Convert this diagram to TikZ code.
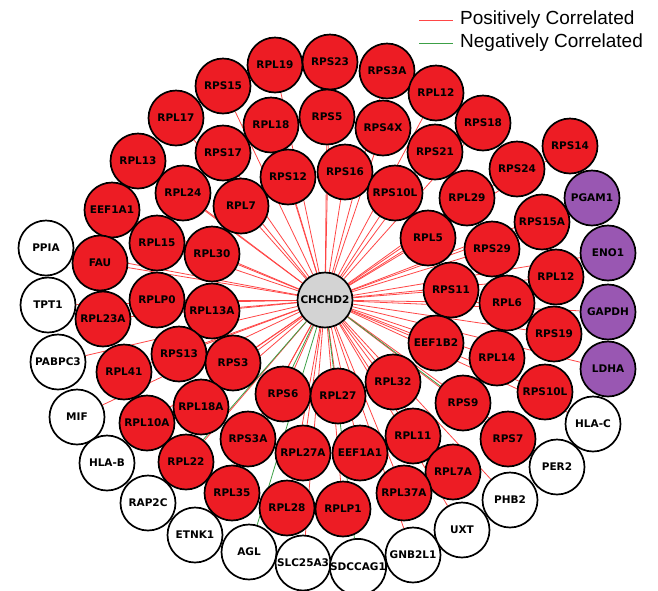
\documentclass[tikz,border=0pt]{standalone}
\usepackage{fontspec}
\setmainfont{DejaVu Sans}
\newfontfamily\legendfont{Liberation Sans}
\usetikzlibrary{backgrounds,positioning}

\definecolor{genered}{RGB}{237,28,36}
\definecolor{genepurple}{RGB}{153,87,178}
\definecolor{genegrey}{RGB}{211,211,211}
\definecolor{posred}{RGB}{255,70,70}
\definecolor{neggreen}{RGB}{60,160,70}

\begin{document}
\begin{tikzpicture}
[x=1pt, y=-1pt,
% STYLES
% The gene style is used to draw every gene as a circle
gene/.style={circle, draw, line width=1.7pt, minimum size=55pt, inner sep=0pt, fill=genered, font=\bfseries\fontsize{10.5}{12}\selectfont},
% The hub style is used for the central gene
hub/.style={gene, fill=genegrey},
% The glyco style is used for the glycolysis genes
glyco/.style={gene, fill=genepurple},
% The other style is used for the uncoloured genes
other/.style={gene, fill=white},
% Correlation lines
poscor/.style={draw=posred, line width=0.8pt},
negcor/.style={draw=neggreen, line width=0.8pt},
legendtext/.style={anchor=west, inner sep=0pt, font=\legendfont\fontsize{19}{22}\selectfont}]

\useasboundingbox (0,0) rectangle (658,590);

% Draw hub
\node [hub] (chchd2) at (325,300) {CHCHD2};

% Draw ribosomal genes
\node [gene] (rpl19) at (275,65) {RPL19};
\node [gene] (rps23) at (330,62) {RPS23};
\node [gene] (rps3a-top) at (387,71) {RPS3A};
\node [gene] (rpl12-top) at (436,93) {RPL12};
\node [gene] (rps18) at (483,123) {RPS18};
\node [gene] (rps14) at (570,146) {RPS14};
\node [gene] (rps15) at (223,86) {RPS15};
\node [gene] (rpl17) at (176,118) {RPL17};
\node [gene] (rpl18) at (271,125) {RPL18};
\node [gene] (rps5) at (327,117) {RPS5};
\node [gene] (rps4x) at (383,128) {RPS4X};
\node [gene] (rps21) at (435,152) {RPS21};
\node [gene] (rps24) at (517,169) {RPS24};
\node [gene] (rpl13) at (138,161) {RPL13};
\node [gene] (rps17) at (223,153) {RPS17};
\node [gene] (rps12) at (288,177) {RPS12};
\node [gene] (rps16) at (345,172) {RPS16};
\node [gene] (rps10l-top) at (395,193) {RPS10L};
\node [gene] (rpl29) at (467,198) {RPL29};
\node [gene] (rpl24) at (183,193) {RPL24};
\node [gene] (eef1a1-left) at (112,210) {EEF1A1};
\node [gene] (rpl7) at (241,206) {RPL7};
\node [gene] (rpl15) at (157,243) {RPL15};
\node [gene] (rpl30) at (212,254) {RPL30};
\node [gene] (fau) at (100,263) {FAU};
\node [gene] (rpl5) at (428,238) {RPL5};
\node [gene] (rps29) at (492,249) {RPS29};
\node [gene] (rps15a) at (542,222) {RPS15A};
\node [gene] (rpl23a) at (103,319) {RPL23A};
\node [gene] (rplp0) at (157,300) {RPLP0};
\node [gene] (rpl13a) at (212,311) {RPL13A};
\node [gene] (rps11) at (451,290) {RPS11};
\node [gene] (rpl12-right) at (556,277) {RPL12};
\node [gene] (rpl6) at (507,303) {RPL6};
\node [gene] (rps19) at (554,334) {RPS19};
\node [gene] (rpl41) at (124,372) {RPL41};
\node [gene] (rps13) at (179,354) {RPS13};
\node [gene] (rps3) at (233,363) {RPS3};
\node [gene] (eef1b2) at (436,343) {EEF1B2};
\node [gene] (rpl14) at (497,358) {RPL14};
\node [gene] (rps10l-right) at (545,392) {RPS10L};
\node [gene] (rps6) at (283,394) {RPS6};
\node [gene] (rpl27) at (338,396) {RPL27};
\node [gene] (rpl32) at (393,382) {RPL32};
\node [gene] (rpl10a) at (147,423) {RPL10A};
\node [gene] (rpl18a) at (201,407) {RPL18A};
\node [gene] (rps9) at (463,403) {RPS9};
\node [gene] (rps3a-bot) at (248,439) {RPS3A};
\node [gene] (rpl27a) at (303,453) {RPL27A};
\node [gene] (eef1a1-bot) at (360,453) {EEF1A1};
\node [gene] (rpl11) at (413,436) {RPL11};
\node [gene] (rps7) at (508,439) {RPS7};
\node [gene] (rpl22) at (186,462) {RPL22};
\node [gene] (rpl7a) at (453,472) {RPL7A};
\node [gene] (rpl35) at (232,493) {RPL35};
\node [gene] (rpl28) at (287,508) {RPL28};
\node [gene] (rplp1) at (343,509) {RPLP1};
\node [gene] (rpl37a) at (404,493) {RPL37A};

% Draw glycolysis genes
\node [glyco] (pgam1) at (592,198) {PGAM1};
\node [glyco] (eno1) at (608,253) {ENO1};
\node [glyco] (gapdh) at (608,312) {GAPDH};
\node [glyco] (ldha) at (608,369) {LDHA};

% Draw other genes
\node [other] (ppia) at (46,248) {PPIA};
\node [other] (tpt1) at (48,305) {TPT1};
\node [other] (pabpc3) at (58,362) {PABPC3};
\node [other] (mif) at (77,417) {MIF};
\node [other] (hla-b) at (107,463) {HLA-B};
\node [other] (rap2c) at (148,503) {RAP2C};
\node [other] (etnk1) at (195,535) {ETNK1};
\node [other] (agl) at (249,552) {AGL};
\node [other] (slc25a3) at (303,563) {SLC25A3};
\node [other] (sdccag1) at (358,567) {SDCCAG1};
\node [other] (gnb2l1) at (413,555) {GNB2L1};
\node [other] (uxt) at (462,530) {UXT};
\node [other] (phb2) at (510,500) {PHB2};
\node [other] (per2) at (557,467) {PER2};
\node [other] (hla-c) at (593,424) {HLA-C};

% Legend
\coordinate (pos-start) at (419,20);
\coordinate (pos-end) at (453,20);
\coordinate (neg-start) at (419,43);
\coordinate (neg-end) at (453,43);
\draw[poscor] (pos-start) -- (pos-end);
\draw[negcor] (neg-start) -- (neg-end);
\node [legendtext, right=7pt of pos-end] (pos-label) {Positively Correlated};
\node [legendtext, right=7pt of neg-end] (neg-label) {Negatively Correlated};

% Draw the links from the hub
\begin{pgfonlayer}{background}
\path[poscor]
    (chchd2) edge (rpl19) (chchd2) edge (rps23) (chchd2) edge (rps3a-top)
    (chchd2) edge (rpl12-top) (chchd2) edge (rps18) (chchd2) edge (rps14)
    (chchd2) edge (rps15) (chchd2) edge (rpl17) (chchd2) edge (rpl18)
    (chchd2) edge (rps5) (chchd2) edge (rps4x) (chchd2) edge (rps21)
    (chchd2) edge (rps24) (chchd2) edge (rpl13) (chchd2) edge (rps17)
    (chchd2) edge (rps12) (chchd2) edge (rps16) (chchd2) edge (rps10l-top)
    (chchd2) edge (rpl29) (chchd2) edge (rpl24) (chchd2) edge (eef1a1-left)
    (chchd2) edge (rpl7) (chchd2) edge (rpl15) (chchd2) edge (rpl30)
    (chchd2) edge (fau) (chchd2) edge (rpl5) (chchd2) edge (rps29)
    (chchd2) edge (rps15a) (chchd2) edge (rpl23a) (chchd2) edge (rplp0)
    (chchd2) edge (rpl13a) (chchd2) edge (rps11) (chchd2) edge (rpl12-right)
    (chchd2) edge (rpl6) (chchd2) edge (rps19) (chchd2) edge (rpl41)
    (chchd2) edge (rps13) (chchd2) edge (rps3) (chchd2) edge (eef1b2)
    (chchd2) edge (rpl14) (chchd2) edge (rps10l-right) (chchd2) edge (rps6)
    (chchd2) edge (rpl27) (chchd2) edge (rpl32) (chchd2) edge (rpl10a)
    (chchd2) edge (rpl18a) (chchd2) edge (rps3a-bot) (chchd2) edge (rpl27a)
    (chchd2) edge (eef1a1-bot) (chchd2) edge (rpl11) (chchd2) edge (rps7)
    (chchd2) edge (rpl22) (chchd2) edge (rpl7a) (chchd2) edge (rpl28)
    (chchd2) edge (rplp1) (chchd2) edge (rpl37a)
    (chchd2) edge (pgam1) (chchd2) edge (eno1) (chchd2) edge (gapdh)
    (chchd2) edge (ldha)
    (chchd2) edge (ppia) (chchd2) edge (tpt1) (chchd2) edge (pabpc3)
    (chchd2) edge (mif) (chchd2) edge (hla-b) (chchd2) edge (etnk1)
    (chchd2) edge (slc25a3) (chchd2) edge (gnb2l1) (chchd2) edge (uxt)
    (chchd2) edge (phb2) (chchd2) edge (per2) (chchd2) edge (hla-c);
\path[negcor]
    (chchd2) edge (agl) (chchd2) edge (sdccag1) (chchd2) edge (rap2c)
    (chchd2) edge (rps9) (chchd2) edge (rpl35);
\end{pgfonlayer}

\end{tikzpicture}
\end{document}
